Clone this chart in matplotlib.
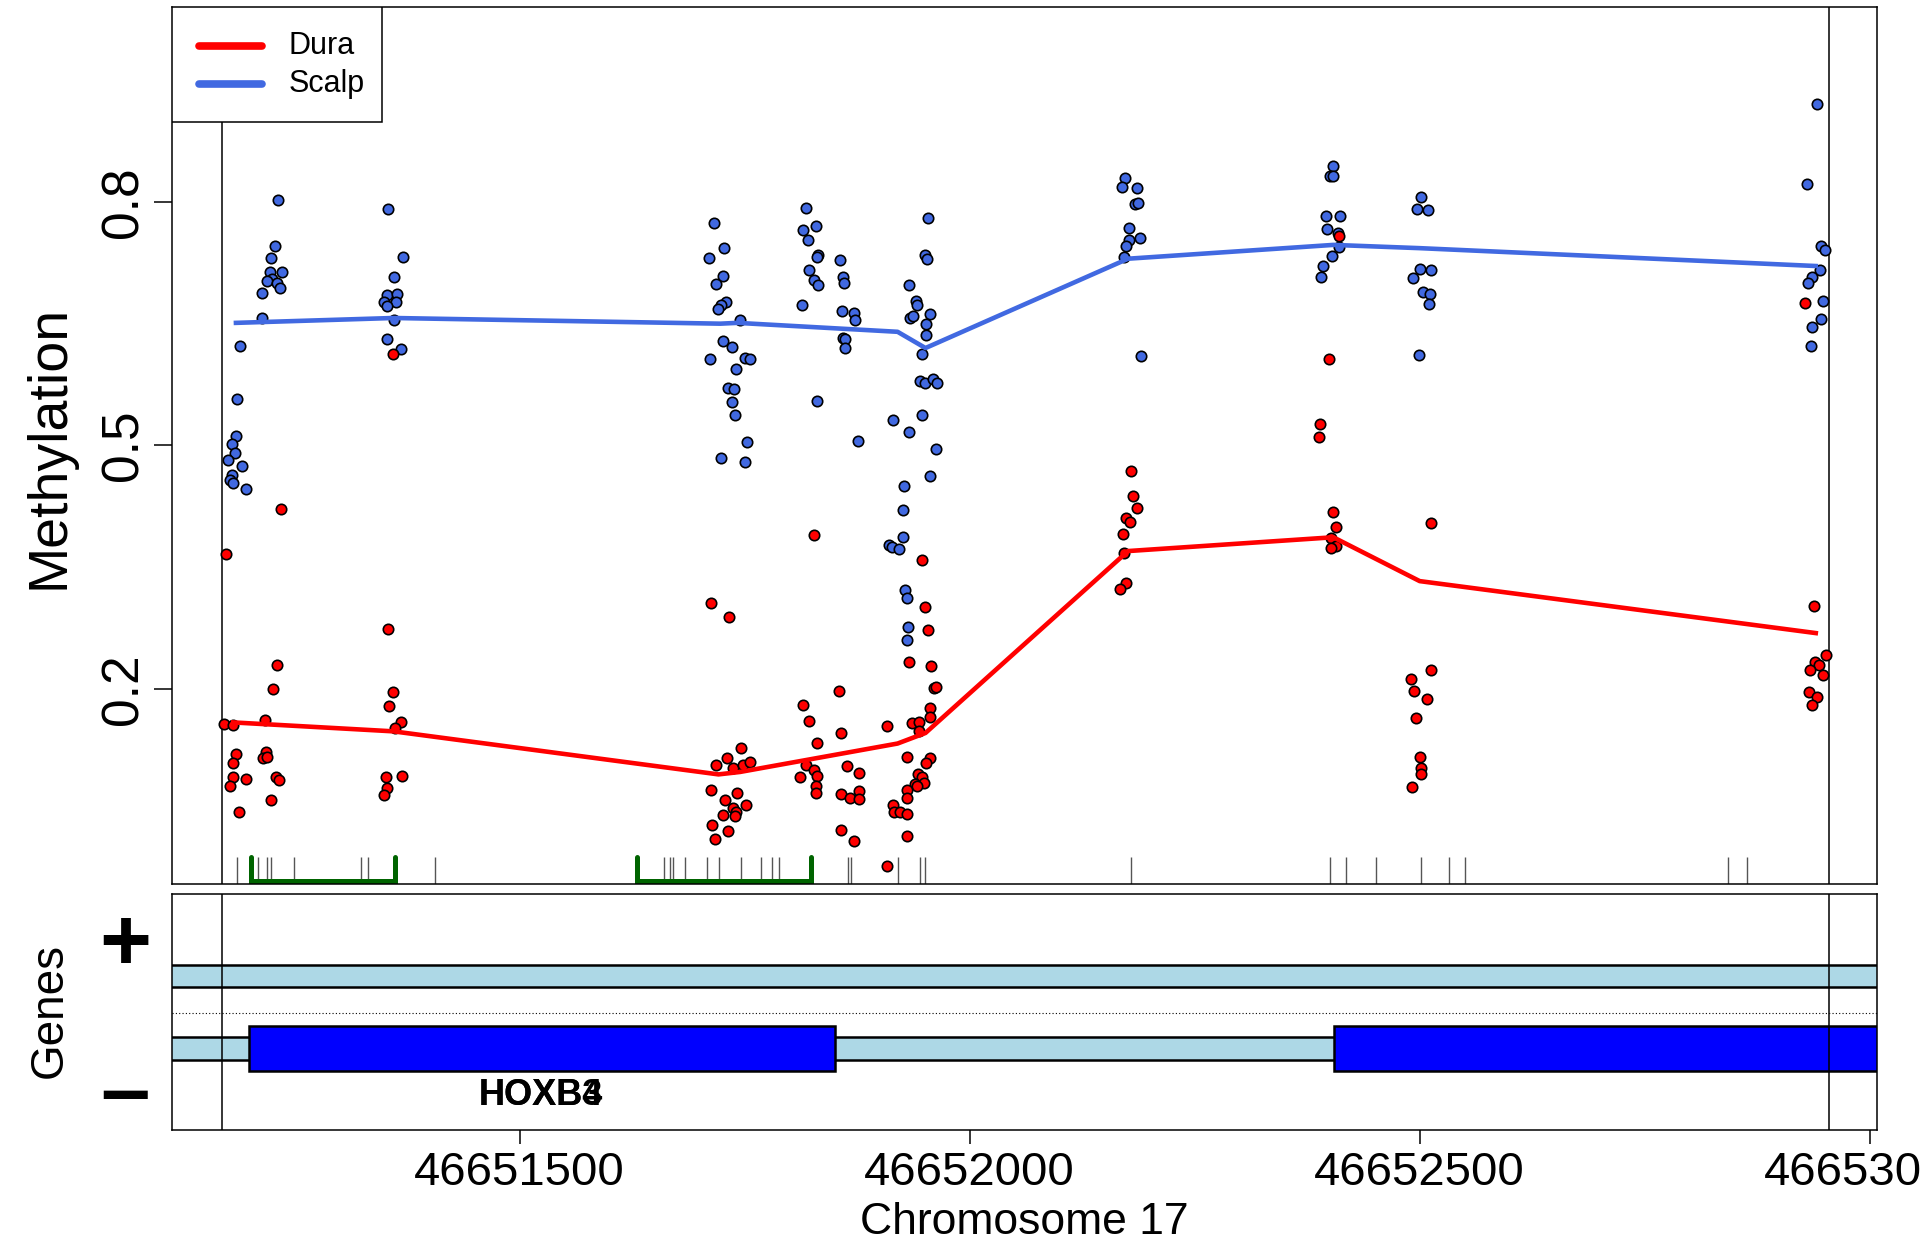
import matplotlib
matplotlib.use('Agg')
import matplotlib.pyplot as plt
import matplotlib.transforms as mtransforms
from matplotlib.patches import Rectangle

plt.rcParams['font.family'] = ['Liberation Sans', 'DejaVu Sans']

# ── Dados (cromossomo 17, região HOXB3/HOXB4) ─────────────────────────────────
scalp_pos = [46651190, 46651186, 46651185, 46651181, 46651184, 46651176, 46651192, 46651181, 46651178, 46651182, 46651196,
             46651232, 46651228, 46651224, 46651223, 46651236, 46651225, 46651220, 46651231, 46651234, 46651214, 46651214,
             46651354, 46651371, 46651361, 46651353, 46651364, 46651350, 46651363, 46651353, 46651361, 46651353, 46651368,
             46651716, 46651727, 46651710, 46651726, 46651718, 46651729, 46651724, 46651721, 46651745, 46651726, 46651736,
             46651712, 46651750, 46651756, 46651740, 46651732, 46651738, 46651736, 46651739, 46651753, 46651724, 46651751,
             46651818, 46651829, 46651815, 46651821, 46651832, 46651830, 46651856, 46651822, 46651859, 46651861, 46651827,
             46651832, 46651814, 46651858, 46651872, 46651873, 46651859, 46651862, 46651862, 46651831, 46651876,
             46651954, 46651951, 46651953, 46651933, 46651940, 46651942, 46651934, 46651937, 46651956, 46651952, 46651952,
             46651947, 46651945, 46651950, 46651959, 46651964, 46651947, 46651915, 46651933, 46651963, 46651956, 46651927,
             46651926, 46651926, 46651910, 46651914, 46651922, 46651928, 46651930, 46651932, 46651931,
             46652173, 46652169, 46652186, 46652184, 46652187, 46652177, 46652177, 46652189, 46652174, 46652171, 46652190,
             46652404, 46652400, 46652404, 46652396, 46652411, 46652397, 46652409, 46652410, 46652403, 46652393, 46652390,
             46652501, 46652497, 46652509, 46652500, 46652513, 46652493, 46652504, 46652511, 46652510, 46652499,
             46652941, 46652930, 46652946, 46652950, 46652945, 46652936, 46652931, 46652948, 46652946, 46652936, 46652935]
scalp_meth = [0.623, 0.557, 0.512, 0.502, 0.491, 0.482, 0.475, 0.464, 0.458, 0.454, 0.446,
              0.802, 0.746, 0.731, 0.714, 0.714, 0.705, 0.703, 0.700, 0.694, 0.688, 0.657,
              0.791, 0.732, 0.708, 0.685, 0.687, 0.677, 0.677, 0.672, 0.655, 0.631, 0.619,
              0.774, 0.743, 0.731, 0.709, 0.699, 0.677, 0.673, 0.668, 0.655, 0.629, 0.621,
              0.606, 0.608, 0.606, 0.594, 0.571, 0.570, 0.554, 0.537, 0.504, 0.484, 0.480,
              0.792, 0.770, 0.765, 0.753, 0.735, 0.732, 0.728, 0.716, 0.707, 0.700, 0.704,
              0.698, 0.673, 0.666, 0.663, 0.654, 0.632, 0.631, 0.620, 0.555, 0.506,
              0.780, 0.735, 0.730, 0.698, 0.678, 0.673, 0.657, 0.659, 0.662, 0.650, 0.636,
              0.613, 0.579, 0.577, 0.582, 0.577, 0.537, 0.532, 0.517, 0.496, 0.462, 0.450,
              0.421, 0.387, 0.378, 0.375, 0.373, 0.322, 0.312, 0.276, 0.261,
              0.829, 0.818, 0.817, 0.797, 0.799, 0.768, 0.753, 0.755, 0.746, 0.732, 0.610,
              0.844, 0.832, 0.832, 0.783, 0.782, 0.766, 0.762, 0.745, 0.733, 0.721, 0.707,
              0.806, 0.791, 0.790, 0.717, 0.716, 0.706, 0.689, 0.687, 0.674, 0.612,
              0.921, 0.822, 0.746, 0.741, 0.716, 0.707, 0.700, 0.678, 0.656, 0.646, 0.622]

dura_pos = [46651174, 46651172, 46651182, 46651185, 46651182, 46651182, 46651178, 46651196, 46651188,
            46651235, 46651231, 46651226, 46651217, 46651218, 46651215, 46651220, 46651229, 46651233, 46651224,
            46651359, 46651354, 46651360, 46651355, 46651368, 46651362, 46651352, 46651370, 46651353, 46651349,
            46651713, 46651733, 46651746, 46651730, 46651718, 46651737, 46651748, 46651756, 46651713, 46651742,
            46651728, 46651752, 46651737, 46651740, 46651726, 46651739, 46651714, 46651732, 46651717,
            46651827, 46651855, 46651815, 46651822, 46651830, 46651857, 46651818, 46651827, 46651831, 46651812,
            46651829, 46651829, 46651864, 46651877, 46651857, 46651867, 46651877, 46651877, 46651857, 46651872,
            46651947, 46651951, 46651954, 46651933, 46651957, 46651961, 46651963, 46651956, 46651956, 46651936,
            46651944, 46651944, 46651908, 46651931, 46651956, 46651952, 46651943, 46651947, 46651949, 46651939,
            46651942, 46651930, 46651931, 46651915, 46651916, 46651923, 46651930, 46651930, 46651908,
            46652179, 46652182, 46652186, 46652174, 46652178, 46652170, 46652172, 46652174, 46652167,
            46652410, 46652399, 46652389, 46652388, 46652404, 46652407, 46652401, 46652407, 46652401,
            46652513, 46652513, 46652490, 46652494, 46652508, 46652496, 46652500, 46652501, 46652501, 46652491,
            46652928, 46652938, 46652951, 46652939, 46652944, 46652934, 46652948, 46652932, 46652941, 46652936]
dura_meth = [0.366, 0.157, 0.156, 0.120, 0.109, 0.092, 0.081, 0.089, 0.049,
             0.422, 0.230, 0.200, 0.162, 0.122, 0.115, 0.116, 0.092, 0.088, 0.064,
             0.613, 0.274, 0.197, 0.179, 0.159, 0.152, 0.092, 0.093, 0.078, 0.070,
             0.306, 0.289, 0.127, 0.115, 0.106, 0.103, 0.107, 0.110, 0.076, 0.072,
             0.063, 0.057, 0.053, 0.049, 0.045, 0.044, 0.033, 0.025, 0.016,
             0.390, 0.198, 0.181, 0.161, 0.134, 0.146, 0.106, 0.100, 0.093, 0.092,
             0.081, 0.072, 0.105, 0.097, 0.071, 0.066, 0.075, 0.065, 0.026, 0.013,
             0.359, 0.301, 0.273, 0.234, 0.229, 0.201, 0.202, 0.177, 0.166, 0.158,
             0.159, 0.149, 0.154, 0.116, 0.115, 0.109, 0.096, 0.092, 0.085, 0.083,
             0.081, 0.076, 0.066, 0.057, 0.049, 0.049, 0.046, 0.019, -0.018,
             0.469, 0.438, 0.423, 0.411, 0.406, 0.391, 0.367, 0.331, 0.323,
             0.758, 0.607, 0.526, 0.511, 0.418, 0.400, 0.386, 0.376, 0.374,
             0.405, 0.224, 0.212, 0.198, 0.188, 0.164, 0.116, 0.103, 0.096, 0.079,
             0.676, 0.302, 0.242, 0.233, 0.230, 0.224, 0.218, 0.197, 0.190, 0.181]

# curvas suavizadas
scalp_line_pos = [46651185, 46651360, 46651723, 46651742, 46651920, 46651951, 46652176, 46652404, 46652500, 46652940]
scalp_line = [0.651, 0.657, 0.650, 0.651, 0.640, 0.620, 0.730, 0.747, 0.743, 0.721]
dura_line_pos = [46651182, 46651360, 46651721, 46651745, 46651920, 46651951, 46652176, 46652404, 46652500, 46652940]
dura_line = [0.159, 0.148, 0.095, 0.098, 0.133, 0.146, 0.370, 0.387, 0.333, 0.269]

# sítios CpG (rug) e ilhas CpG
cpg_pos = [46651186, 46651210, 46651220, 46651224, 46651249, 46651324, 46651332, 46651406,
           46651660, 46651667, 46651671, 46651684, 46651708, 46651722, 46651746, 46651768,
           46651780, 46651788, 46651865, 46651868, 46651920, 46651945, 46651951, 46652179,
           46652400, 46652418, 46652452, 46652501, 46652533, 46652550, 46652843, 46652864]
island_start = [46651202, 46651631]
island_end = [46651362, 46651824]

# região (linhas verticais) e genes
region = [46651169, 46652955]
exon_start = [46651199, 46652405]
exon_end = [46651850, 46653300]
gene_names = ['HOXB3', 'HOXB4']
gene_label_pos = 46651524

xticks = [46651500, 46652000, 46652500, 46653000]
yticks = [0.2, 0.5, 0.8]
xlim = (46651114, 46653008)

RED = '#FF0000'
BLUE = '#4169E1'

# ── Figura ───────────────────────────────────────────────────────────────────
fig = plt.figure(figsize=(19.2, 12.43), dpi=100, facecolor='white')
ax = fig.add_axes([0.0896, 0.2888, 0.888, 0.7056])
axg = fig.add_axes([0.0896, 0.0909, 0.888, 0.1899])

# --- Painel de metilação ---
ax.scatter(scalp_pos, scalp_meth, s=56, c=BLUE, edgecolors='black', linewidths=1.2, zorder=3)
ax.scatter(dura_pos, dura_meth, s=56, c=RED, edgecolors='black', linewidths=1.2, zorder=3)
ax.plot(scalp_line_pos, scalp_line, color=BLUE, lw=3.3, zorder=4)
ax.plot(dura_line_pos, dura_line, color=RED, lw=3.3, zorder=4)

trans = mtransforms.blended_transform_factory(ax.transData, ax.transAxes)
ax.vlines(cpg_pos, 0, 0.031, transform=trans, colors='#555555', lw=1.0)
for s, e in zip(island_start, island_end):
    ax.plot([s, s, e, e], [0.031, 0.003, 0.003, 0.031], transform=trans,
            color='#006400', lw=3.6, solid_capstyle='round', solid_joinstyle='miter')

for r in region:
    ax.axvline(r, color='black', lw=1.1)
    axg.axvline(r, color='black', lw=1.1)

ax.set_xlim(xlim)
ax.set_ylim(-0.04, 1.04)
ax.set_yticks(yticks)
ax.set_yticklabels([str(v) for v in yticks], fontsize=37, rotation=90, va='center')
ax.tick_params(axis='y', direction='out', length=13, width=1.1, pad=4)
ax.tick_params(axis='x', bottom=False, labelbottom=False)
for sp in ax.spines.values():
    sp.set_linewidth(1.1)

# legenda manual (estilo R)
ax.add_patch(Rectangle((0, 0.869), 0.1232, 0.131, transform=ax.transAxes,
                       facecolor='white', edgecolor='black', lw=1.1, zorder=6))
for yy, col, lab in [(0.9559, RED, 'Dura'), (0.9122, BLUE, 'Scalp')]:
    ax.plot([0.0158, 0.0528], [yy, yy], transform=ax.transAxes, color=col,
            lw=5.5, solid_capstyle='round', zorder=7)
    ax.text(0.0686, yy, lab, transform=ax.transAxes, fontsize=22,
            va='center', ha='left', zorder=7)

fig.text(50 / 1920, 1 - 447 / 1243, 'Methylation', rotation=90,
         ha='center', va='center', fontsize=40)

# --- Painel de genes ---
axg.set_xlim(xlim)
axg.set_ylim(-1.0, 1.017)
axg.set_yticks([])
x0, x1 = xlim
axg.add_patch(Rectangle((x0 - 500, 0.222), (x1 - x0) + 1000, 0.188,
                        facecolor='#ADD8E6', edgecolor='black', lw=1.8))
axg.add_patch(Rectangle((x0 - 500, -0.402), (x1 - x0) + 1000, 0.195,
                        facecolor='#ADD8E6', edgecolor='black', lw=1.8))
for s, e in zip(exon_start, exon_end):
    axg.add_patch(Rectangle((s, -0.496), e - s, 0.385,
                            facecolor='#0000FF', edgecolor='black', lw=1.8))
axg.axhline(0, color='black', lw=0.8, ls=(0, (1, 2)))
for name in gene_names:
    axg.text(gene_label_pos, -0.709, name, ha='center', va='center',
             fontsize=26, fontweight='bold')

gtrans = mtransforms.blended_transform_factory(axg.transAxes, axg.transData)
axg.text(-0.0276, 0.564, '+', transform=gtrans, ha='center', va='center',
         fontsize=64, fontweight='bold')
axg.text(-0.0276, -0.709, '\u2013', transform=gtrans, ha='center', va='center',
         fontsize=64, fontweight='bold')
fig.text(50 / 1920, 1 - 1011 / 1243, 'Genes', rotation=90,
         ha='center', va='center', fontsize=33)

axg.set_xticks(xticks)
axg.set_xticklabels([str(v) for v in xticks], fontsize=34)
axg.tick_params(axis='x', direction='out', length=10, width=1.1, pad=5)
for sp in axg.spines.values():
    sp.set_linewidth(1.1)

fig.text(1024 / 1920, 1 - 1222 / 1243, 'Chromosome 17', ha='center',
         va='center', fontsize=32)

plt.savefig('out.png', dpi=100, facecolor='white')
plt.close()
